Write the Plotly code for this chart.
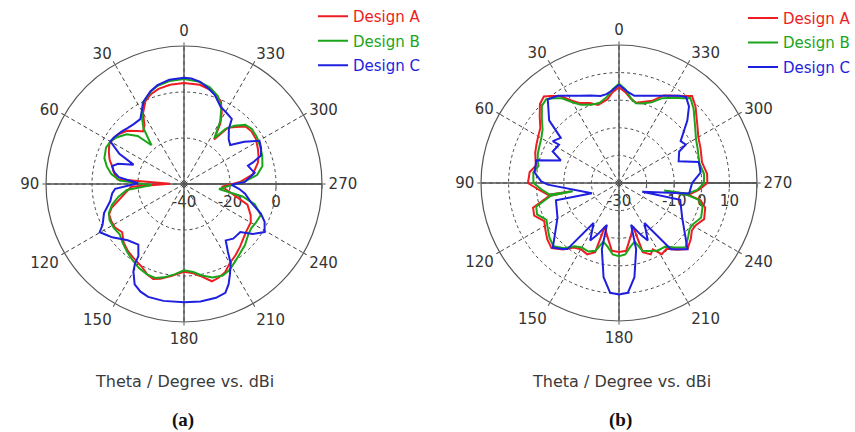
import plotly.graph_objects as go

# ---------------- panel (a) data (theta in degrees, gain in dBi) ----------------
A_RED_THETA = [0, 8, 15, 20, 25, 30, 34, 38, 41, 47, 52, 57, 62, 67, 72, 76, 81, 86, 89, 93,
               99, 104, 108, 112, 117, 122, 128, 134, 140, 146, 153, 158, 162, 166, 172, 180,
               186, 190, 196, 200, 205, 210, 216, 222, 232, 240, 245, 252, 259, 266, 272, 278,
               286, 290, 295, 302, 308, 313, 318, 322, 326, 329, 332, 336, 343, 351, 360]
A_RED_R = [3.9, 3.6, 2.8, 1.7, -0.3, -4.4, -9.3, -11, -9.5, -6.1, -4.5, -3.5, -3.2, -4.5, -6,
           -7.8, -9.2, -11, -34, -17, -14, -10.7, -7, -4.9, -4.5, -4.5, -5.9, -3.5, -2, -1, 0.4,
           2.5, 3.4, 2.5, 0.4, -1.8, -1, 0.6, 4, 3.5, 2.3, -0.2, -1.8, -3.5, -5.9, -6.5, -8, -11,
           -19, -23.5, -15.7, -9.8, -6.6, -5.5, -4.5, -3.1, -2.8, -3.4, -6.6, -9, -16.6, -9.4,
           -5, -0.6, 2.4, 3.7, 3.9]

A_GREEN_THETA = [0, 8, 15, 19, 27, 32, 36, 40, 44, 49, 55, 60, 65, 72, 77, 82, 87, 92, 96, 101,
                 106, 111, 116, 122, 128, 134, 140, 146, 152, 158, 163, 168, 174, 180, 186, 191,
                 197, 203, 208, 213, 218, 225, 232, 237, 242, 248, 254, 258, 262, 268, 272, 277,
                 283, 290, 297, 303, 309, 314, 319, 323, 326.5, 330, 334, 339, 345, 352, 360]
A_GREEN_R = [5.6, 5.2, 4.2, 3, -0.4, -5.4, -10, -18, -11, -7, -4.5, -3, -2.6, -3.6, -5.5, -8,
             -12, -26, -15, -11, -7.5, -5, -4, -4, -4.5, -3, -1.5, 0, 1.5, 2.5, 2.7, 1.5, -0.5,
             -2.5, -1.5, 0.5, 2.5, 3.2, 2.3, 0.5, -1, -2.5, -4.5, -5, -4.5, -4, -8, -14, -24.6,
             -20, -14, -8, -5, -3.8, -3, -2.3, -2, -3, -6.5, -10, -16, -8.5, -3, 1, 3.5, 5, 5.6]

A_BLUE_THETA = [0, 8, 15, 20, 26, 30, 34, 40, 45, 50, 56, 60, 65, 69, 73, 76, 80, 84, 89, 94,
                97.5, 103, 110, 116.6, 119.7, 123, 126.6, 135, 143, 147.7, 148.5, 150, 153.8,
                158, 162.4, 170, 180, 188, 195.7, 200.8, 204, 207, 210.5, 213, 216.5, 222,
                229.5, 234, 239.2, 244.9, 249, 255, 261, 265, 269, 272, 279, 282, 285.9, 287.4,
                290.3, 295, 299.8, 305, 310.2, 315, 321, 323.7, 329, 334.7, 341, 346, 351, 356, 360]
A_BLUE_R = [6.2, 5.8, 4.5, 2.8, 0, -3.3, -6, -6, -5.5, -4.5, -3.5, -3, -9, -16.5, -10, -7.8, -9,
            -11.5, -20, -10, -8.5, -7.1, -3, -0.4, 2.2, 0.5, -1.1, -5.4, -7, -2.9, 0.9, 4, 8.6,
            10.5, 11.5, 11.6, 11.4, 11.6, 11.4, 10.6, 7.7, 4, 0, -5, -9.5, -8, -7.8, -3, 0.8,
            -1.3, -4.2, -10, -13.1, -16, -19.3, -13.5, -8.9, -10, -11.1, -8.6, -4.3, -3, -2.2,
            -8, -13.7, -12.5, -9, -4.9, -4, -2.8, 1, 3, 5, 6, 6.2]

# ---------------- panel (b) data ----------------
B_RED_THETA = [0, 4, 8, 15, 20, 26, 30, 34, 38, 41, 45, 50, 55, 60, 65, 70, 75, 78, 83, 90, 95,
               99.5, 100, 100.5, 106, 111, 117, 122, 128, 134, 140, 145, 150, 156, 161, 162,
               167, 174, 180, 186, 193, 198, 199, 204, 207, 211, 216, 221, 226, 232, 237, 241,
               247, 254, 258, 260, 260.5, 261, 265, 270, 276, 284, 293, 300, 307, 315, 320, 323,
               327, 333, 338, 344, 348, 352, 356, 360]
B_RED_R = [4.7, 3, 0.6, -0.7, 0.8, 2.2, 4.5, 8, 10, 11.5, 10.5, 7.5, 4.8, 3.8, 3, 2.3, 1.3, 0.7,
           2.6, 3, -1, -4, -12.2, -4.3, 2.4, 2.9, 0.4, 1.5, 3, 4, 1.5, -1.5, -2.3, -1.7, -3.5,
           -13.5, -10.6, -5.3, -5, -5.3, -10.6, -13.5, -3.5, -1.7, -3, 0.1, -0.6, 2, 4.5, 3,
           1.5, 1.7, 3.5, 2.5, 0.2, -4, -11.6, -4, -1, 2, 2.1, 1, 2.1, 3.2, 5.5, 9.2, 11.2, 9.5,
           7.7, 5.6, 2.1, 0.5, -0.3, 0.8, 3, 4.7]

B_GREEN_THETA = [0, 4, 8, 14, 20, 26, 30, 34, 38, 41, 45, 50, 55, 60, 65, 70, 75, 78, 83, 90, 95,
                 99.5, 100, 100.5, 106, 111, 117, 122, 128, 134, 140, 145, 150, 156, 161, 165,
                 170, 175, 180, 185, 190, 195, 199, 204, 210, 216, 221, 226, 232, 237, 241, 247,
                 254, 258, 260, 260.5, 261, 265, 270, 276, 284, 293, 300, 307, 315, 320, 323, 327,
                 333, 338, 344, 348, 352, 356, 360]
B_GREEN_R = [6, 4, 1.5, -0.2, 0.2, 1.5, 3.8, 7, 9, 10.2, 9.5, 6.5, 3.8, 2.5, 1.8, 1.3, 0.5, -0.2,
             1.3, 1, -2, -4.5, -13, -5, 1.2, 1.8, -0.5, 0.5, 2, 3, 0.8, -2, -3, -2.8, -4, -8,
             -6.5, -4, -3.5, -4, -6.5, -8, -4, -3, -1.8, -1.5, 1, 3.5, 1.8, 0.5, 0.7, 2.3, 1.5,
             -0.5, -4.5, -13.4, -5, -1.5, 0.8, 1, 0, 1, 2.2, 4.5, 8.2, 10.2, 8.5, 6.8, 4.5, 1.5,
             0, -0.5, 1, 4, 6]

B_BLUE_THETA = [0, 4, 8, 12, 18, 24, 30, 35, 40.4, 48.1, 52.2, 57.7, 57.4, 64.6, 68.8, 74.7,
                82.9, 88.8, 91.3, 110.5, 105.4, 119.5, 134.3, 139.5, 142, 147.6, 153.4, 157,
                163.9, 165.5, 170.7, 175.4, 180, 184.6, 189.3, 194.5, 196.1, 203, 206.6, 212.4,
                218, 226, 241, 254.6, 249.5, 261.5, 270, 277.3, 284.7, 290, 297.6, 299.9, 304.2,
                312.5, 317.6, 322, 325.4, 330, 335, 340, 345, 350, 355, 360]
B_BLUE_R = [5.6, 3.7, 2.5, 2.2, 3.3, 4.6, 6.5, 8.6, 9.8, 4, -3.3, -1.6, -4.2, -3.4, -7.4, 1.1,
            0.8, -1.8, -4.2, -19.5, -6.3, -4.4, 3.5, 1.5, 0.4, -12.8, -6.7, -9.5, -14.2, -5.2,
            4.6, 9.9, 10.4, 9.9, 4.6, -5.2, -14.2, -9.5, -6.7, -12.8, 0.5, 4.5, -3.8, -7, -21,
            -4.3, -3.5, -0.2, -0.1, -7, -5.4, -2.1, -3, 3.6, 7.6, 9.5, 8.4, 6.5, 4.9, 3.6, 2.7,
            2.1, 3.3, 5.6]

SERIES_NAMES = ["Design A", "Design B", "Design C"]
SERIES_COLORS = ["#ee1d23", "#1ba51b", "#1f1fe0"]

ANGLE_TICKS = list(range(0, 360, 30))
A_R_RANGE = [-40, 20]
A_R_TICKS = [-40, -20, 0, 20]
A_R_LABELS = ["-40", "-20", "0", ""]
B_R_RANGE = [-30, 20]
B_R_TICKS = [-30, -20, -10, 0, 10, 20]
B_R_LABELS = ["-30", "", "-10", "0", "10", ""]

AXIS_COLOR = "#555555"
TEXT_COLOR = "#333333"
FONT = "DejaVu Sans"

fig = go.Figure()


def add_panel(subplot, legend, series, rrange):
    rmin, rmax = rrange
    # solid cross axes (0-180 and 90-270 lines)
    fig.add_trace(go.Scatterpolar(
        r=[rmax, rmin, rmax, None, rmax, rmin, rmax],
        theta=[90, 90, 270, None, 0, 0, 180],
        mode="lines", line=dict(color=AXIS_COLOR, width=1.4),
        hoverinfo="skip", showlegend=False, subplot=subplot))
    for (theta, r), name, color in zip(series, SERIES_NAMES, SERIES_COLORS):
        fig.add_trace(go.Scatterpolar(
            r=r, theta=theta, mode="lines",
            line=dict(color=color, width=2),
            name=f'<span style="color:{color}">{name}</span>',
            legendgroup=f"{subplot}{name}", legend=legend,
            subplot=subplot))


add_panel("polar", "legend",
          [(A_RED_THETA, A_RED_R), (A_GREEN_THETA, A_GREEN_R), (A_BLUE_THETA, A_BLUE_R)],
          A_R_RANGE)
add_panel("polar2", "legend2",
          [(B_RED_THETA, B_RED_R), (B_GREEN_THETA, B_GREEN_R), (B_BLUE_THETA, B_BLUE_R)],
          B_R_RANGE)


def polar_cfg(dx, dy, rrange, rticks, rlabels):
    return dict(
        domain=dict(x=dx, y=dy),
        bgcolor="white",
        hole=0,
        angularaxis=dict(
            rotation=90, direction="counterclockwise",
            tickmode="array", tickvals=ANGLE_TICKS,
            ticktext=[str(a) for a in ANGLE_TICKS],
            showline=True, linecolor=AXIS_COLOR, linewidth=1.2,
            showgrid=True, gridcolor="#444444", griddash="4px,3px", gridwidth=1,
            ticks="outside", ticklen=3, tickcolor=AXIS_COLOR,
            tickfont=dict(family=FONT, size=15, color=TEXT_COLOR),
            layer="below traces",
        ),
        radialaxis=dict(
            range=rrange, tickmode="array", tickvals=rticks, ticktext=rlabels,
            angle=0, tickangle=0, side="clockwise",
            showline=True, linecolor=AXIS_COLOR, linewidth=1.4,
            showgrid=True, gridcolor="#444444", griddash="3px,3px", gridwidth=1,
            ticks="outside", ticklen=4, tickcolor=AXIS_COLOR,
            tickfont=dict(family=FONT, size=15, color=TEXT_COLOR),
            layer="below traces",
        ),
    )


W, H = 855, 432
fig.update_layout(
    width=W, height=H,
    margin=dict(l=0, r=0, t=0, b=0, autoexpand=False),
    paper_bgcolor="white",
    showlegend=True,
    polar=polar_cfg([46 / W, 322 / W], [1 - 322 / H, 1 - 46 / H], A_R_RANGE, A_R_TICKS, A_R_LABELS),
    polar2=polar_cfg([481 / W, 757 / W], [1 - 321 / H, 1 - 45 / H], B_R_RANGE, B_R_TICKS, B_R_LABELS),
    legend=dict(x=313 / W, y=1.0, xanchor="left", yanchor="top",
                font=dict(family=FONT, size=15), bgcolor="rgba(0,0,0,0)",
                traceorder="grouped", tracegroupgap=2, itemclick=False),
    legend2=dict(x=743 / W, y=0.996, xanchor="left", yanchor="top",
                 font=dict(family=FONT, size=15), bgcolor="rgba(0,0,0,0)",
                 traceorder="grouped", tracegroupgap=2, itemclick=False),
)

for cx, tag in [(184, "(a)"), (621, "(b)")]:
    fig.add_annotation(x=cx / W, y=1 - 381 / H, xref="paper", yref="paper",
                       xanchor="center", yanchor="middle",
                       text="Theta / Degree vs. dBi", showarrow=False,
                       font=dict(family=FONT, size=16, color="#3a3a3a"))
    fig.add_annotation(x=(cx - 1) / W, y=1 - 420 / H, xref="paper", yref="paper",
                       xanchor="center", yanchor="middle",
                       text=f"<b>{tag}</b>", showarrow=False,
                       font=dict(family="Liberation Serif", size=19, color="#111111"))

fig.write_html("out.html")
